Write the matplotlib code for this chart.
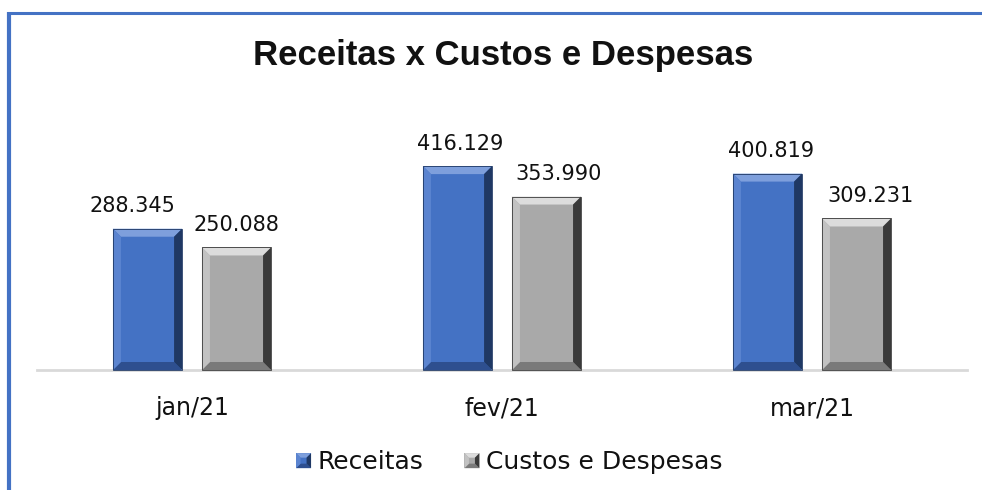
import matplotlib
matplotlib.use("Agg")
import matplotlib.pyplot as plt
from matplotlib.patches import Polygon, Rectangle
from matplotlib.lines import Line2D
from matplotlib.transforms import IdentityTransform
from matplotlib.legend_handler import HandlerBase
import numpy as np

categories = ["jan/21", "fev/21", "mar/21"]
receitas = [288345, 416129, 400819]
custos = [250088, 353990, 309231]
series_names = ["Receitas", "Custos e Despesas"]
title = "Receitas x Custos e Despesas"

# label placement nudges (pixels), style only
rec_label_dx = [-15, 2.5, 3.5]
cus_label_dx = [0, 12, 14]

W, H = 982, 490
DPI = 100
PT = 72.0 / DPI
fig = plt.figure(figsize=(W / DPI, H / DPI), dpi=DPI)
fig.patch.set_facecolor("white")

ax_left, ax_right = 37, 967
ax_bottom_px = 370  # from top
ymax = 450000
ax_height_px = 220.5
ax = fig.add_axes([ax_left / W, (H - ax_bottom_px) / H,
                   (ax_right - ax_left) / W, ax_height_px / H])

x = np.arange(len(categories))
bw = 0.223
off = 0.1435
blue = dict(face="#4472C4", top="#7E9FDC", left="#5B84D0", right="#1F3864", bottom="#2E4F8F")
gray = dict(face="#A9A9A9", top="#DCDCDC", left="#C2C2C2", right="#3A3A3A", bottom="#7A7A7A")

b1 = ax.bar(x - off, receitas, width=bw, color=blue["face"], zorder=2)
b2 = ax.bar(x + off, custos, width=bw, color=gray["face"], zorder=2)

ax.set_xlim(-0.5, len(categories) - 0.5)
ax.set_ylim(0, ymax)
for s in ["top", "right", "left"]:
    ax.spines[s].set_visible(False)
ax.spines["bottom"].set_color("#D9D9D9")
ax.spines["bottom"].set_linewidth(2)
ax.set_yticks([])
ax.set_xticks(x)
ax.set_xticklabels(categories, fontsize=17, color="#111111")
ax.tick_params(axis="x", length=0, pad=19)
ax.patch.set_alpha(0)

def fmt(v):
    return f"{v:,}".replace(",", ".")

for bars, vals, dxs in ((b1, receitas, rec_label_dx), (b2, custos, cus_label_dx)):
    for r, v, dx in zip(bars, vals, dxs):
        ax.annotate(fmt(v), (r.get_x() + r.get_width() / 2, v),
                    xytext=(dx * PT, 9), textcoords="offset points",
                    ha="center", va="bottom", fontsize=15, color="#111111")

fig.text(503.5 / W, (H - 56) / H, title, ha="center", va="center",
         fontsize=25, fontweight="bold", family="Liberation Sans", color="#111111")

def bevel_polys(x0, y0, x1, y1, d, c):
    return [
        (c["top"], [(x0, y1), (x1, y1), (x1 - d, y1 - d), (x0 + d, y1 - d)]),
        (c["bottom"], [(x0, y0), (x1, y0), (x1 - d, y0 + d), (x0 + d, y0 + d)]),
        (c["left"], [(x0, y0), (x0, y1), (x0 + d, y1 - d), (x0 + d, y0 + d)]),
        (c["right"], [(x1, y0), (x1, y1), (x1 - d, y1 - d), (x1 - d, y0 + d)]),
    ]

fig.canvas.draw()
for bars, c in ((b1, blue), (b2, gray)):
    for r in bars:
        bb = r.get_window_extent()
        for col, pts in bevel_polys(bb.x0, bb.y0, bb.x1, bb.y1, 8, c):
            p = Polygon(pts, closed=True, facecolor=col, edgecolor="none",
                        transform=IdentityTransform(), zorder=3)
            fig.add_artist(p)
        edge = Rectangle((bb.x0, bb.y0), bb.width, bb.height, fill=False,
                         edgecolor=c["right"], linewidth=0.6,
                         transform=IdentityTransform(), zorder=4)
        fig.add_artist(edge)

class BevelHandler(HandlerBase):
    def __init__(self, c):
        super().__init__()
        self.c = c
    def create_artists(self, legend, orig_handle, xdescent, ydescent,
                       width, height, fontsize, trans):
        s = height * 0.9
        x0 = width - s
        y0 = (height - s) / 2
        x1, y1 = x0 + s, y0 + s
        d = s * 0.3
        arts = [Rectangle((x0, y0), s, s, facecolor=self.c["face"],
                          edgecolor="none", transform=trans)]
        for col, pts in bevel_polys(x0, y0, x1, y1, d, self.c):
            arts.append(Polygon(pts, closed=True, facecolor=col,
                                edgecolor="none", transform=trans))
        return arts

h1 = Rectangle((0, 0), 1, 1)
h2 = Rectangle((0, 0), 1, 1)
leg = fig.legend([h1, h2], series_names, loc="center",
                 bbox_to_anchor=(508.5 / W, (H - 462) / H), ncol=2, frameon=False,
                 fontsize=18, handlelength=0.65, handleheight=0.65,
                 handletextpad=0.25, columnspacing=1.6,
                 handler_map={h1: BevelHandler(blue), h2: BevelHandler(gray)})
for t in leg.get_texts():
    t.set_color("#111111")

# outer border (left and top)
fig.add_artist(Line2D([9 / W, 9 / W], [0, (H - 12) / H], color="#4472C4",
                      linewidth=3, transform=fig.transFigure, solid_capstyle="butt"))
fig.add_artist(Line2D([7 / W, 1], [(H - 13.5) / H, (H - 13.5) / H], color="#4472C4",
                      linewidth=2.2, transform=fig.transFigure, solid_capstyle="butt"))

fig.savefig("out.png", dpi=DPI, facecolor="white")
